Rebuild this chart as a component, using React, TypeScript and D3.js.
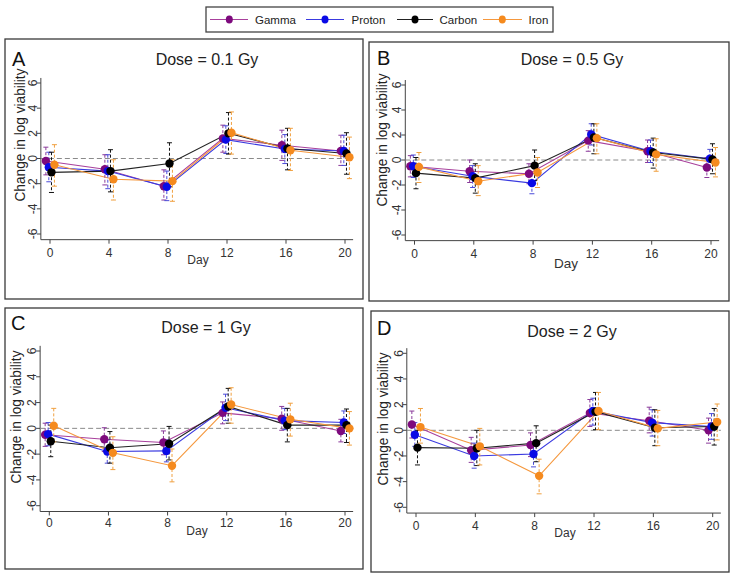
import React from "react";
import * as d3 from "d3";

// ---- data ----
const days = [0, 4, 8, 12, 16, 20];
const seriesNames = ["Gamma", "Proton", "Carbon", "Iron"];
const xTicks = [0, 4, 8, 12, 16, 20];
const yTicks = [-6, -4, -2, 0, 2, 4, 6];
const panelLetters = ["A", "B", "C", "D"];
const panelTitles = ["Dose = 0.1 Gy", "Dose = 0.5 Gy", "Dose = 1 Gy", "Dose = 2 Gy"];

// rows: Gamma, Proton, Carbon, Iron
const meanA = [
  [-0.2, -0.85, -2.2, 1.6, 1.05, 0.6],
  [-0.7, -1.0, -2.25, 1.5, 0.75, 0.6],
  [-1.1, -1.0, -0.4, 2.0, 0.8, 0.4],
  [-0.5, -1.65, -1.8, 2.05, 0.65, 0.1],
];
const hiA = [
  [0.9, 0.3, -0.9, 2.65, 2.25, 1.85],
  [0.5, 0.3, -1.0, 2.6, 1.9, 1.85],
  [0.5, 0.7, 1.25, 3.65, 2.4, 2.05],
  [1.1, -0.1, -0.1, 3.7, 2.4, 1.7],
];
const loA = [
  [-1.3, -2.1, -3.3, 0.5, -0.15, -0.55],
  [-1.85, -2.4, -3.35, 0.4, -0.4, -0.55],
  [-2.7, -2.65, -2.25, 0.35, -0.9, -1.25],
  [-2.2, -3.3, -3.4, 0.35, -0.95, -1.6],
];

const meanB = [
  [-0.5, -0.9, -1.1, 1.55, 0.7, -0.6],
  [-0.5, -1.3, -1.85, 2.05, 0.7, 0.1],
  [-1.05, -1.45, -0.45, 1.8, 0.6, 0.05],
  [-0.55, -1.7, -1.0, 1.75, 0.45, -0.2],
];
const hiB = [
  [0.35, 0.0, -0.3, 2.35, 1.6, 0.2],
  [0.4, -0.45, -1.1, 2.9, 1.6, 0.85],
  [0.2, -0.3, 0.8, 2.9, 1.75, 1.3],
  [0.6, -0.45, 0.2, 2.9, 1.7, 1.0],
];
const loB = [
  [-1.35, -1.8, -1.9, 0.7, -0.2, -1.4],
  [-1.4, -2.2, -2.7, 1.2, -0.2, -0.7],
  [-2.3, -2.65, -1.65, 0.5, -0.65, -1.1],
  [-1.8, -2.85, -2.2, 0.5, -0.9, -1.35],
];

const meanC = [
  [-0.5, -0.85, -1.1, 1.2, 0.75, -0.2],
  [-0.45, -1.8, -1.75, 1.6, 0.6, 0.45],
  [-1.0, -1.5, -1.2, 1.7, 0.25, 0.25],
  [0.2, -1.9, -2.9, 1.85, 0.7, 0.0],
];
const hiC = [
  [0.4, 0.05, -0.2, 2.05, 1.7, 0.7],
  [0.45, -0.9, -0.9, 2.65, 1.55, 1.35],
  [0.25, -0.25, 0.15, 3.1, 1.55, 1.5],
  [1.55, -0.65, -1.6, 3.15, 1.95, 1.3],
];
const loC = [
  [-1.4, -1.8, -2.05, 0.35, -0.15, -1.05],
  [-1.35, -2.7, -2.6, 0.6, -0.1, -0.4],
  [-2.2, -2.7, -2.45, 0.4, -1.05, -1.1],
  [-1.05, -3.2, -4.15, 0.4, -0.6, -1.3],
];

const meanD = [
  [0.45, -1.55, -1.15, 1.35, 0.75, 0.0],
  [-0.35, -2.0, -1.85, 1.5, 0.6, 0.3],
  [-1.35, -1.4, -1.0, 1.45, 0.2, 0.3],
  [0.25, -1.25, -3.55, 1.5, 0.15, 0.65],
];
const hiD = [
  [1.5, -0.55, -0.2, 2.4, 1.8, 0.95],
  [0.6, -1.0, -0.9, 2.5, 1.6, 1.3],
  [0.0, 0.0, 0.35, 2.95, 1.6, 1.7],
  [1.7, 0.15, -2.25, 2.95, 1.55, 2.05],
];
const loD = [
  [-0.6, -2.5, -2.05, 0.3, -0.2, -1.0],
  [-1.25, -2.95, -2.85, 0.4, -0.45, -0.7],
  [-2.7, -2.75, -2.45, 0.05, -1.2, -1.15],
  [-1.0, -2.7, -4.95, 0.05, -1.2, -0.75],
];

const panelMeans = [meanA, meanB, meanC, meanD];
const panelHi = [hiA, hiB, hiC, hiD];
const panelLo = [loA, loB, loC, loD];

// ---- styles / layout ----
const seriesOffset = [-0.28, -0.08, 0.1, 0.3];
const markerColor = ["#7d0a7d", "#0a0ae6", "#000000", "#f58a1e"];
const lineColor = ["#a8409c", "#3a3ae0", "#222222", "#f5983e"];
const barColor = ["#8a3a9a", "#4a4ad8", "#111111", "#f0a040"];

const FONT = "'Liberation Sans', Arial, Helvetica, sans-serif";

type Layout = {
  box: [number, number, number, number];
  x0: number; x20: number; y6: number; ym6: number;
  letter: [number, number];
  title: [number, number];
  ylab: [number, number];
  tickBase: number;
  day: [number, number];
  dayFont: number;
};

const layouts: Layout[] = [
  { box: [5, 39, 363, 299], x0: 50, x20: 345, y6: 83, ym6: 234, letter: [12, 66], title: [207, 65], ylab: [20, 135], tickBase: 257, day: [198, 264], dayFont: 12 },
  { box: [369, 42, 729, 301], x0: 414.5, x20: 711, y6: 85, ym6: 235, letter: [377, 65], title: [572, 65], ylab: [382, 140], tickBase: 258, day: [566, 268], dayFont: 13.5 },
  { box: [5, 308, 363, 569], x0: 49.3, x20: 345, y6: 351, ym6: 505.7, letter: [11, 330], title: [206, 333], ylab: [16, 417], tickBase: 527, day: [197, 535], dayFont: 12 },
  { box: [371, 311, 729, 572], x0: 416, x20: 712.7, y6: 353.3, ym6: 507.3, letter: [377, 335], title: [572, 337], ylab: [383, 419], tickBase: 530, day: [565, 537], dayFont: 12 },
];

const X_MIN = -0.62;
const X_MAX = 20.55;
const Y_MIN = -6.45;
const Y_MAX = 6.4;

function Panel({ idx }: { idx: number }) {
  const L = layouts[idx];
  const x = d3.scaleLinear().domain([0, 20]).range([L.x0, L.x20]);
  const y = d3.scaleLinear().domain([-6, 6]).range([L.ym6, L.y6]);
  const means = panelMeans[idx];
  const his = panelHi[idx];
  const los = panelLo[idx];
  const axL = x(X_MIN);
  const axR = x(X_MAX);
  const axB = y(Y_MIN);
  const axT = y(Y_MAX);
  const line = d3
    .line<[number, number]>()
    .x((d) => d[0])
    .y((d) => d[1]);
  const [bx0, by0, bx1, by1] = L.box;
  return (
    <g>
      <rect x={bx0} y={by0} width={bx1 - bx0} height={by1 - by0} fill="#fff" stroke="#3a3a3a" strokeWidth={1.3} />
      <text x={L.letter[0]} y={L.letter[1]} fontFamily={FONT} fontSize={20} fill="#111">
        {panelLetters[idx]}
      </text>
      <text x={L.title[0]} y={L.title[1]} fontFamily={FONT} fontSize={16} fill="#222" textAnchor="middle">
        {panelTitles[idx]}
      </text>
      <text
        transform={`translate(${L.ylab[0]},${L.ylab[1]}) rotate(-90)`}
        fontFamily={FONT}
        fontSize={14.5}
        fill="#222"
        textAnchor="middle"
        dominantBaseline="central"
        textLength={133}
        lengthAdjust="spacingAndGlyphs"
      >
        Change in log viability
      </text>
      {/* axes */}
      <line x1={axL} x2={axL} y1={axT} y2={axB} stroke="#444" strokeWidth={1} />
      <line x1={axL} x2={axR} y1={axB} y2={axB} stroke="#444" strokeWidth={1} />
      {yTicks.map((t) => (
        <g key={"y" + t}>
          <line x1={axL - 4} x2={axL} y1={y(t)} y2={y(t)} stroke="#444" />
          <text
            transform={`translate(${axL - 8},${y(t)}) rotate(-90)`}
            fontFamily={FONT}
            fontSize={12}
            fill="#333"
            textAnchor="middle"
            dominantBaseline="central"
          >
            {t}
          </text>
        </g>
      ))}
      {xTicks.map((t) => (
        <g key={"x" + t}>
          <line x1={x(t)} x2={x(t)} y1={axB} y2={axB + 4} stroke="#444" />
          <text x={x(t)} y={L.tickBase} fontFamily={FONT} fontSize={12} fill="#333" textAnchor="middle">
            {t}
          </text>
        </g>
      ))}
      <text x={L.day[0]} y={L.day[1]} fontFamily={FONT} fontSize={L.dayFont} fill="#333" textAnchor="middle">
        Day
      </text>
      {/* zero reference line */}
      <line x1={axL} x2={axR} y1={y(0)} y2={y(0)} stroke="#8a8a8a" strokeWidth={1} strokeDasharray="5,3" />
      {/* lines */}
      {means.map((m, s) => (
        <path
          key={"l" + s}
          d={line(days.map((d, i) => [x(d + seriesOffset[s]), y(m[i])]) as [number, number][]) || ""}
          fill="none"
          stroke={lineColor[s]}
          strokeWidth={1.1}
        />
      ))}
      {/* error bars */}
      {means.map((m, s) =>
        days.map((d, i) => {
          const cx = x(d + seriesOffset[s]);
          const yt = y(his[s][i]);
          const yb = y(los[s][i]);
          return (
            <g key={"e" + s + "-" + i} stroke={barColor[s]} strokeWidth={1}>
              <line x1={cx} x2={cx} y1={yt} y2={yb} strokeDasharray="3,2" />
              <line x1={cx - 2.5} x2={cx + 2.5} y1={yt} y2={yt} />
              <line x1={cx - 2.5} x2={cx + 2.5} y1={yb} y2={yb} />
            </g>
          );
        })
      )}
      {/* markers */}
      {means.map((m, s) =>
        days.map((d, i) => (
          <circle key={"m" + s + "-" + i} cx={x(d + seriesOffset[s])} cy={y(m[i])} r={4.2} fill={markerColor[s]} />
        ))
      )}
    </g>
  );
}

function Legend() {
  const entries = [
    { l0: 210, l1: 248, m: 229.3, t: 255 },
    { l0: 306, l1: 344, m: 325, t: 351.5 },
    { l0: 397, l1: 433, m: 415, t: 439.5 },
    { l0: 483, l1: 522, m: 502.3, t: 528.5 },
  ];
  const cy = 19.5;
  return (
    <g>
      <rect x={206} y={7} width={347} height={25} fill="#fff" stroke="#444" strokeWidth={1.3} />
      {seriesNames.map((n, s) => (
        <g key={n}>
          <line x1={entries[s].l0} x2={entries[s].l1} y1={cy} y2={cy} stroke={lineColor[s]} strokeWidth={1.1} />
          <ellipse cx={entries[s].m} cy={cy} rx={3.5} ry={4} fill={markerColor[s]} />
          <text x={entries[s].t} y={cy} fontFamily={FONT} fontSize={11.5} fill="#222" dominantBaseline="central">
            {n}
          </text>
        </g>
      ))}
    </g>
  );
}

export default function App() {
  return (
    <svg
      width={736}
      height={579}
      style={{ position: "absolute", left: 0, top: 0, background: "#fff" }}
    >
      <rect x={0} y={0} width={736} height={579} fill="#fff" />
      <Legend />
      {[0, 1, 2, 3].map((i) => (
        <Panel key={i} idx={i} />
      ))}
    </svg>
  );
}
